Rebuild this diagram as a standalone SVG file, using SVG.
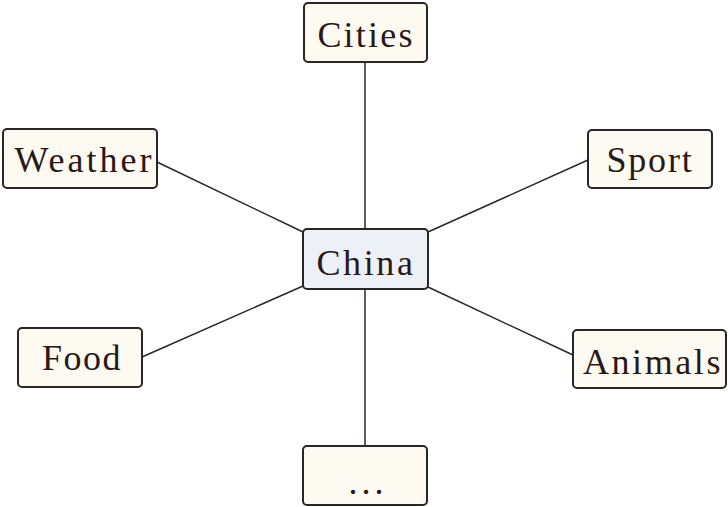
<svg xmlns="http://www.w3.org/2000/svg" width="728" height="507" viewBox="0 0 728 507">
<style>
.box{fill:#fdfbf1;stroke:#2b2626;stroke-width:2}
.center{fill:#eef0f8;stroke:#2b2626;stroke-width:2}
.lbl{font-family:"Liberation Serif","Times New Roman",serif;font-size:36px;fill:#2a1818;text-anchor:middle}
.conn line{stroke:#2b2626;stroke-width:1.5}
</style>
<rect width="728" height="507" fill="#ffffff"/>
<g class="conn" id="connectors">
<line x1="365" y1="62" x2="365" y2="229"/>
<line x1="157" y1="162" x2="303" y2="232"/>
<line x1="588" y1="160" x2="428" y2="232"/>
<line x1="142" y1="357" x2="303" y2="286"/>
<line x1="573" y1="355" x2="428" y2="287"/>
<line x1="365" y1="289" x2="365" y2="446"/>
</g>
<g id="cities"><rect class="box" x="304" y="3" width="123" height="59" rx="4"/><text class="lbl" x="366" y="47" style="letter-spacing:2.2px">Cities</text></g>
<g id="weather"><rect class="box" x="3" y="129" width="154" height="59" rx="4"/><text class="lbl" x="84.5" y="172" style="letter-spacing:3px">Weather</text></g>
<g id="sport"><rect class="box" x="588" y="130" width="124" height="58" rx="4"/><text class="lbl" x="650" y="172" style="letter-spacing:1.8px">Sport</text></g>
<g id="china"><rect class="center" x="303" y="229" width="125" height="60" rx="4"/><text class="lbl" x="366" y="275" style="letter-spacing:2.6px">China</text></g>
<g id="food"><rect class="box" x="18" y="328" width="124" height="59" rx="4"/><text class="lbl" x="82" y="370" style="letter-spacing:1.5px">Food</text></g>
<g id="animals"><rect class="box" x="573" y="330" width="153" height="58" rx="4"/><text class="lbl" x="653" y="374" style="letter-spacing:2.6px">Animals</text></g>
<g id="more"><rect class="box" x="303" y="446" width="124" height="59" rx="4"/><text class="lbl" x="368" y="494" style="letter-spacing:4px">...</text></g>
</svg>
